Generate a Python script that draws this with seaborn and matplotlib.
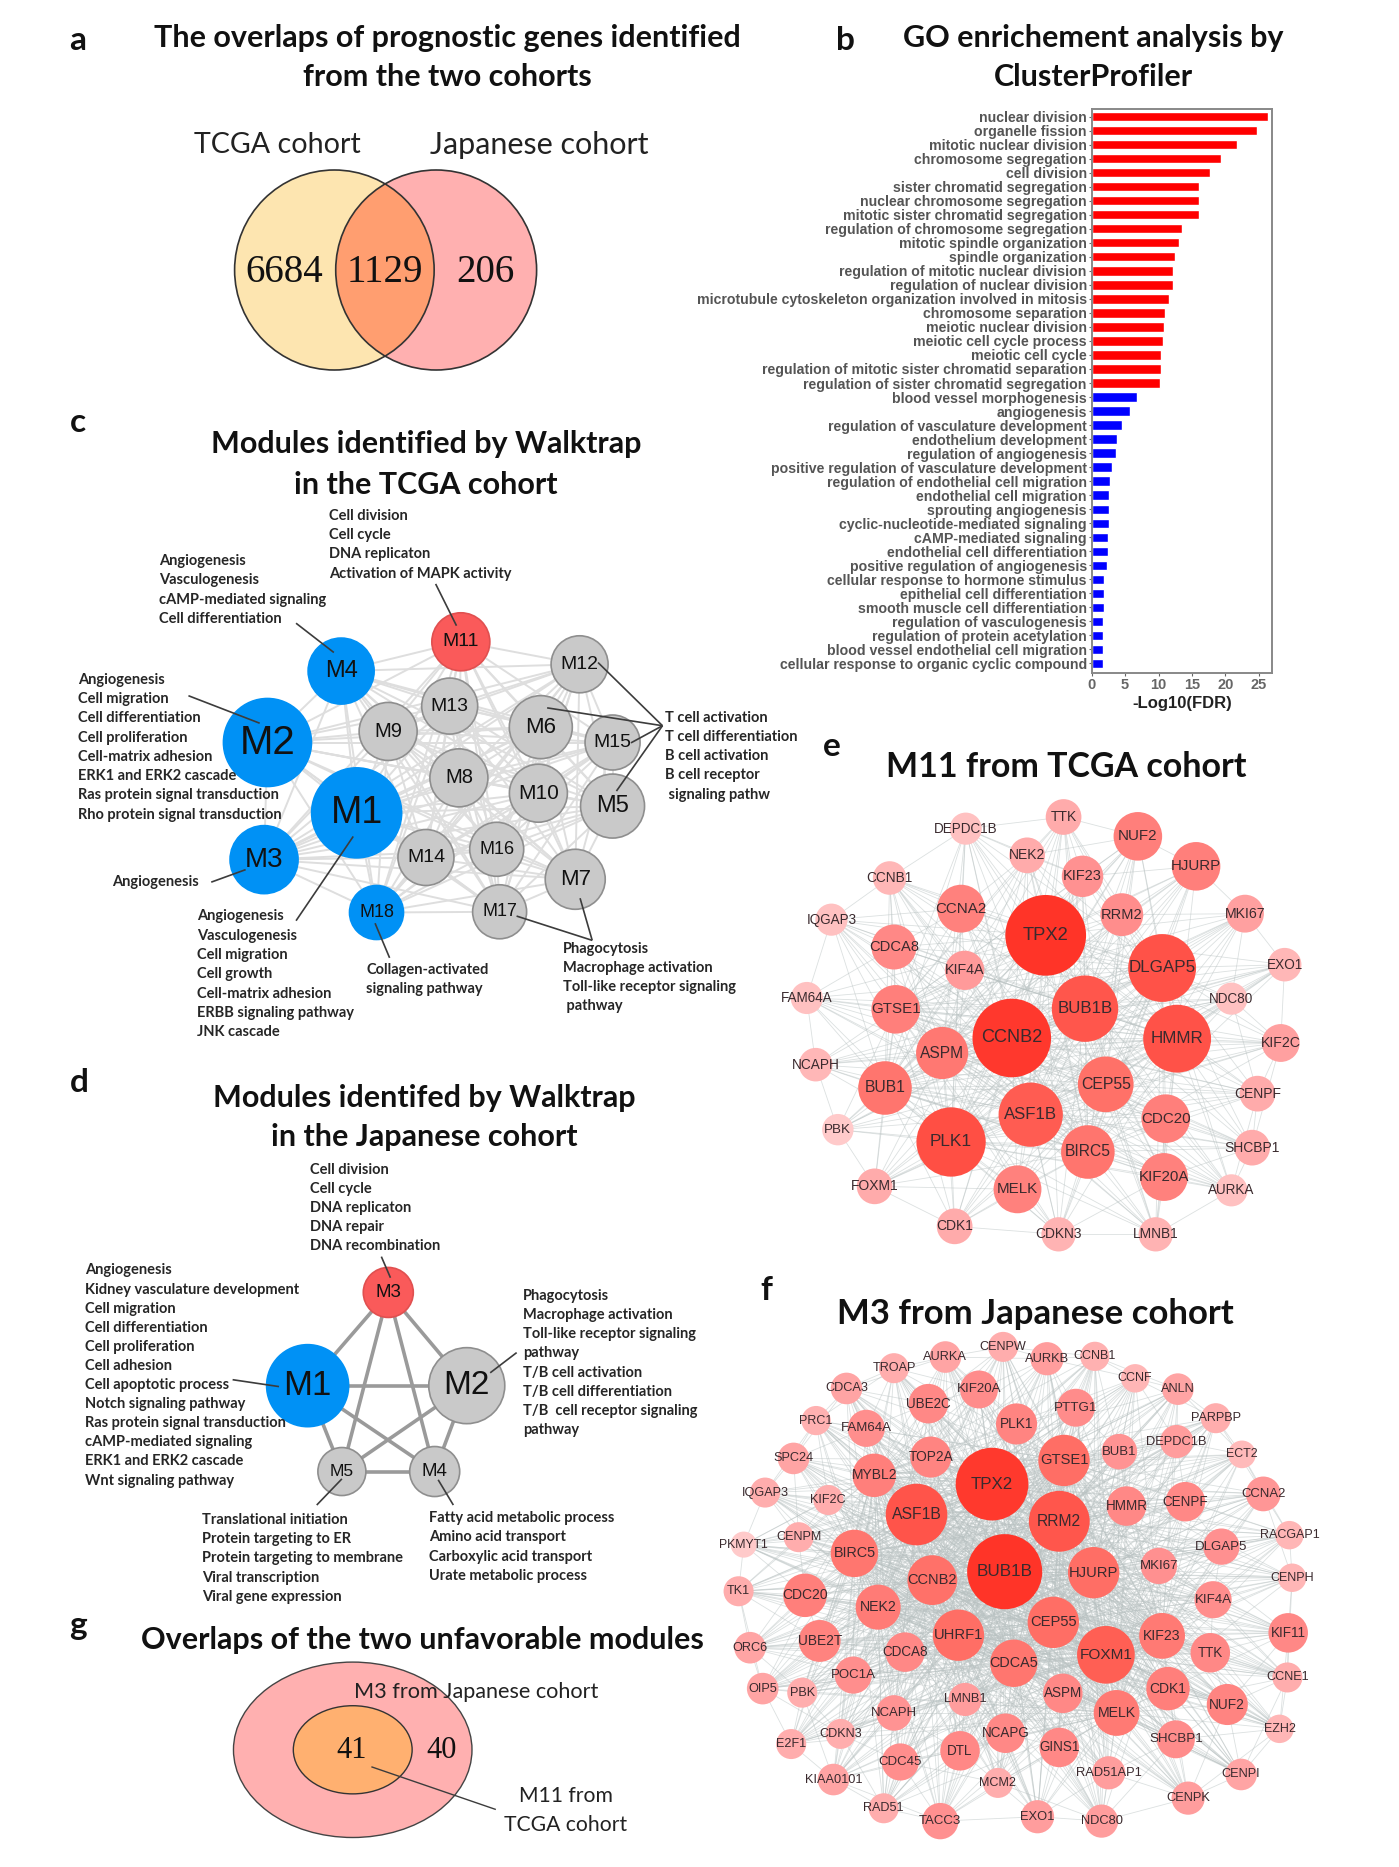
import itertools
import numpy as np
import pandas as pd
import matplotlib
matplotlib.use("Agg")
import matplotlib.pyplot as plt
from matplotlib.collections import LineCollection
from matplotlib.colors import LinearSegmentedColormap, to_hex
from matplotlib.patches import Ellipse
import seaborn as sns

# ---------- data ----------
go_terms_up = ["nuclear division", "organelle fission", "mitotic nuclear division", "chromosome segregation",
               "cell division", "sister chromatid segregation", "nuclear chromosome segregation",
               "mitotic sister chromatid segregation", "regulation of chromosome segregation",
               "mitotic spindle organization", "spindle organization", "regulation of mitotic nuclear division",
               "regulation of nuclear division", "microtubule cytoskeleton organization involved in mitosis",
               "chromosome separation", "meiotic nuclear division", "meiotic cell cycle process", "meiotic cell cycle",
               "regulation of mitotic sister chromatid separation", "regulation of sister chromatid segregation"]
go_values_up = [26.3, 24.7, 21.7, 19.3, 17.7, 16.1, 16.0, 16.0, 13.5, 13.1, 12.5, 12.1, 12.1, 11.5, 10.9, 10.8,
                10.65, 10.4, 10.3, 10.2]
go_terms_down = ["blood vessel morphogenesis", "angiogenesis", "regulation of vasculature development",
                 "endothelium development", "regulation of angiogenesis", "positive regulation of vasculature development",
                 "regulation of endothelial cell migration", "endothelial cell migration", "sprouting angiogenesis",
                 "cyclic-nucleotide-mediated signaling", "cAMP-mediated signaling", "endothelial cell differentiation",
                 "positive regulation of angiogenesis", "cellular response to hormone stimulus",
                 "epithelial cell differentiation", "smooth muscle cell differentiation", "regulation of vasculogenesis",
                 "regulation of protein acetylation", "blood vessel endothelial cell migration",
                 "cellular response to organic cyclic compound"]
go_values_down = [6.75, 5.75, 4.6, 3.85, 3.7, 3.0, 2.8, 2.65, 2.65, 2.65, 2.4, 2.4, 2.3, 1.9, 1.8, 1.8, 1.65, 1.65,
                  1.65, 1.65]
venn_ab = [6684, 1129, 206]
venn_g = [41, 40]

c_names = ["M1", "M2", "M3", "M4", "M5", "M6", "M7", "M8", "M9", "M10", "M11", "M12", "M13", "M14", "M15", "M16", "M17", "M18"]
c_x = [612, 428, 421, 580, 1140, 992, 1063, 823, 677, 987, 827, 1072, 804, 755, 1140, 901, 907, 653]
c_y = [876, 679, 1007, 479, 857, 636, 1062, 778, 648, 821, 397, 460, 577, 1001, 679, 978, 1153, 1155]
c_r = [45, 44, 34, 33, 32, 31.5, 30, 29, 29, 29, 29, 28.5, 28, 28, 27.5, 27, 27, 27]
c_fs = [27, 29, 20, 17, 17, 16, 16, 14.5, 14.5, 15, 14, 14, 14, 14, 14, 13, 13, 13]
c_kind = ["b", "b", "b", "b", "g", "g", "g", "g", "g", "g", "r", "g", "g", "g", "g", "g", "g", "b"]

d_names = ["M1", "M2", "M3", "M4", "M5"]
d_x = [571, 938, 757, 864, 650]
d_y = [535, 535, 332, 722, 722]
d_r = [41, 38, 25, 25, 24]
d_fs = [25, 24, 13.5, 13.5, 12.5]
d_kind = ["b", "g", "r", "g", "g"]

e_names = ["TPX2", "CCNB2", "DLGAP5", "HMMR", "PLK1", "BUB1B", "ASF1B", "CEP55", "BUB1", "ASPM", "GTSE1", "BIRC5", "CDC20",
           "KIF20A", "MELK", "HJURP", "NUF2", "CCNA2", "CDCA8", "RRM2", "KIF23", "KIF4A", "MKI67", "KIF2C", "NEK2", "TTK",
           "SHCBP1", "CDK1", "FOXM1", "CENPF", "LMNB1", "CDKN3", "DEPDC1B", "CCNB1", "IQGAP3", "FAM64A", "NCAPH", "PBK",
           "NDC80", "EXO1", "AURKA"]
e_x = [772, 677, 1098, 1140, 507, 882, 730, 940, 322, 482, 352, 890, 1108, 1103, 693, 1193, 1030, 535, 347, 985, 875, 545,
       1330, 1430, 720, 822, 1350, 517, 293, 1365, 1080, 808, 548, 335, 172, 103, 128, 190, 1292, 1441, 1292]
e_y = [460, 768, 558, 770, 1080, 680, 998, 907, 918, 813, 682, 1110, 1010, 1185, 1222, 253, 163, 380, 495, 398, 283, 565,
       395, 783, 220, 105, 1097, 1333, 1213, 935, 1357, 1357, 140, 288, 413, 648, 848, 1043, 650, 548, 1225]
e_rz = [113, 110, 95, 95, 97, 93, 90, 78, 75, 73, 68, 75, 68, 67, 67, 68, 68, 67, 63, 60, 58, 55, 53, 53, 50, 50, 50, 50,
        50, 50, 48, 48, 45, 47, 45, 45, 47, 44, 45, 47, 45]

f_names = ["TPX2", "BUB1B", "ASF1B", "RRM2", "FOXM1", "GTSE1", "HJURP", "UHRF1", "CCNB2", "BIRC5", "CEP55", "CDCA5", "MYBL2",
           "CDC20", "NEK2", "UBE2T", "KIF23", "MELK", "CDK1", "NUF2", "ASPM", "TOP2A", "PTTG1", "PLK1", "KIF20A", "UBE2C",
           "FAM64A", "HMMR", "CENPF", "BUB1", "DEPDC1B", "DLGAP5", "MKI67", "KIF4A", "TTK", "KIF11", "CDCA8", "POC1A", "LMNB1",
           "NCAPH", "NCAPG", "GINS1", "DTL", "CDC45", "SHCBP1", "RAD51AP1", "PBK", "OIP5", "ORC6", "E2F1", "CDKN3", "KIAA0101",
           "RAD51", "TACC3", "MCM2", "EXO1", "NDC80", "CENPK", "CENPI", "EZH2", "CCNE1", "CENPH", "RACGAP1", "CCNA2", "ECT2",
           "PARPBP", "ANLN", "CCNF", "CCNB1", "AURKB", "CENPW", "AURKA", "TROAP", "CDCA3", "PRC1", "SPC24", "IQGAP3", "KIF2C",
           "CENPM", "PKMYT1", "TK1"]
f_x = [688, 720, 497, 858, 976, 870, 945, 603, 537, 340, 843, 743, 390, 215, 400, 252, 1118, 1003, 1133, 1283, 867, 533, 900,
       750, 655, 527, 370, 1028, 1177, 1010, 1155, 1268, 1110, 1247, 1240, 1437, 468, 337, 620, 440, 722, 858, 607, 456, 1153,
       983, 208, 108, 76, 180, 305, 287, 414, 557, 703, 803, 965, 1184, 1318, 1415, 1435, 1447, 1440, 1374, 1320, 1254, 1158,
       1050, 948, 827, 716, 570, 440, 320, 243, 186, 114, 274, 199, 60, 47]
f_y = [453, 712, 543, 563, 958, 383, 715, 900, 737, 658, 862, 983, 427, 782, 817, 917, 902, 1130, 1058, 1105, 1072, 373, 227,
       275, 173, 215, 288, 518, 505, 357, 327, 638, 695, 795, 952, 893, 950, 1018, 1090, 1130, 1190, 1232, 1242, 1275, 1208,
       1307, 1070, 1058, 937, 1222, 1192, 1327, 1412, 1450, 1337, 1437, 1450, 1382, 1312, 1177, 1025, 730, 604, 482, 365, 258,
       172, 140, 75, 82, 47, 77, 110, 170, 265, 377, 478, 500, 610, 632, 770]
f_rz = [92, 95, 78, 77, 73, 65, 65, 65, 63, 60, 65, 60, 55, 55, 57, 53, 58, 58, 55, 52, 50, 52, 48, 52, 48, 50, 47, 50, 50, 45,
        42, 46, 46, 47, 50, 50, 50, 47, 42, 45, 50, 50, 50, 47, 48, 42, 38, 40, 40, 38, 38, 40, 38, 46, 38, 42, 42, 42, 40, 36,
        38, 36, 36, 44, 35, 38, 40, 36, 37, 42, 38, 40, 38, 40, 37, 40, 38, 38, 38, 33, 38]

c_blocks = [(555, 44, ["Cell division", "Cell cycle", "DNA replicaton", "Activation of MAPK activity"]),
            (205, 171, ["Angiogenesis", "Vasculogenesis", "cAMP-mediated signaling", "Cell differentiation"]),
            (37, 503, ["Angiogenesis", "Cell migration", "Cell differentiation", "Cell proliferation", "Cell-matrix adhesion",
                       "ERK1 and ERK2 cascade", "Ras protein signal transduction", "Rho protein signal transduction"]),
            (107, 1069, ["Angiogenesis"]),
            (283, 1166, ["Angiogenesis", "Vasculogenesis", "Cell migration", "Cell growth", "Cell-matrix adhesion",
                         "ERBB signaling pathway", "JNK cascade"]),
            (632, 1315, ["Collagen-activated", "signaling pathway"]),
            (1037, 1256, ["Phagocytosis", "Macrophage activation", "Toll-like receptor signaling", " pathway"]),
            (1248, 609, ["T cell activation", "T cell differentiation", "B cell activation", "B cell receptor", " signaling pathw"])]
c_leaders = [(775, 235, 818, 352), (487, 345, 565, 427), (265, 548, 412, 625), (312, 1070, 383, 1035), (605, 942, 487, 1178),
             (650, 1185, 680, 1282), (1073, 1115, 1098, 1233), (942, 1165, 1098, 1233), (1110, 455, 1243, 632),
             (1005, 582, 1243, 632), (1178, 680, 1243, 632), (1148, 815, 1243, 632)]
d_blocks = [(576, 65, ["Cell division", "Cell cycle", "DNA replicaton", "DNA repair", "DNA recombination"]),
            (58, 284, ["Angiogenesis", "Kidney vasculature development", "Cell migration", "Cell differentiation",
                       "Cell proliferation", "Cell adhesion", "Cell apoptotic process", "Notch signaling pathway",
                       "Ras protein signal transduction", "cAMP-mediated signaling", "ERK1 and ERK2 cascade",
                       "Wnt signaling pathway"]),
            (1068, 340, ["Phagocytosis", "Macrophage activation", "Toll-like receptor signaling", "pathway",
                         "T/B cell activation", "T/B cell differentiation", "T/B  cell receptor signaling", "pathway"]),
            (327, 828, ["Translational initiation", "Protein targeting to ER", "Protein targeting to membrane",
                        "Viral transcription", "Viral gene expression"]),
            (851, 824, ["Fatty acid metabolic process", "Amino acid transport", "Carboxylic acid transport",
                        "Urate metabolic process"])]
d_leaders = [(741, 254, 762, 300), (398, 522, 505, 537), (1053, 463, 992, 507), (650, 738, 592, 795), (872, 740, 907, 795)]

# ---------- style ----------
sns.set_theme(style="white")
plt.rcParams["font.family"] = ["Lato", "DejaVu Sans"]
W, H = 1399, 1867
fig = plt.figure(figsize=(W / 100, H / 100), dpi=100, facecolor="white")
KIND = {"b": "#0091F5", "g": "#C9C9C9", "r": "#FA5A5A"}
EDGE = {"b": "#0091F5", "g": "#8E8E8E", "r": "#E05050"}
ARIAL = "Liberation Sans"
TITLE = dict(fontsize=22, fontweight="bold", ha="center", va="center", color="#111111")
NOTE = dict(fontsize=10.5, fontweight="bold", ha="left", va="center", color="#262626")


def panel(x, y, w, h, zw=1568, zh=1568, z=1):
    ax = fig.add_axes([x / W, 1 - (y + h) / H, w / W, h / H], zorder=z)
    ax.set_xlim(0, zw)
    ax.set_ylim(zh, 0)
    ax.axis("off")
    ax.patch.set_alpha(0)
    return ax


def nodes(ax, names, xs, ys, rs, colors, edges=None, lw=0.0, z=3):
    df = pd.DataFrame({"name": names, "x": xs, "y": ys})
    df["s"] = (2 * np.asarray(rs, float) * 0.72) ** 2
    xl, yl = ax.get_xlim(), ax.get_ylim()
    sns.scatterplot(data=df, x="x", y="y", hue="name", palette=dict(zip(names, colors)), s=df["s"].values, ax=ax,
                    legend=False, linewidth=lw, edgecolor=edges if edges is not None else "none", zorder=z, clip_on=False)
    ax.set_xlim(xl)
    ax.set_ylim(yl)
    ax.axis("off")


def links(ax, xs, ys, pairs, color, lw, alpha=1.0):
    segs = [((xs[i], ys[i]), (xs[j], ys[j])) for i, j in pairs]
    ax.add_collection(LineCollection(segs, colors=color, linewidths=lw, alpha=alpha, zorder=1))


def notes(ax, blocks, dy):
    for x, y, lines in blocks:
        for k, s in enumerate(lines):
            ax.text(x, y + k * dy, s, zorder=6, **NOTE)


def leaders(ax, segs, lw=1.2):
    ax.add_collection(LineCollection([((a, b), (c, d)) for a, b, c, d in segs], colors="#3c3c3c", linewidths=lw, zorder=5))


def hub_pairs(xs, ys, rs, n_hubs, n_near):
    """Link structure of the gene networks: every gene to the largest hubs and to its nearest neighbours."""
    xs, ys = np.asarray(xs, float), np.asarray(ys, float)
    order = np.argsort(-np.asarray(rs, float))[:n_hubs]
    pairs = set()
    for i in range(len(xs)):
        for h in order:
            if h != i:
                pairs.add(tuple(sorted((i, int(h)))))
        dist = np.hypot(xs - xs[i], ys - ys[i])
        for j in np.argsort(dist)[1:n_near + 1]:
            pairs.add(tuple(sorted((i, int(j)))))
    return sorted(pairs)


# ---------- page text ----------
page = panel(0, 0, W, H, W, H, z=8)
for s, x, y in [("a", 78, 41), ("b", 845, 40), ("c", 78, 423), ("d", 79, 1083), ("e", 832, 747), ("f", 766, 1290), ("g", 78, 1625)]:
    page.text(x, y, s, fontsize=24, fontweight="bold", ha="center", va="center", color="#111111")
for s, x, y in [("The overlaps of prognostic genes identified", 447, 38), ("from the two cohorts", 447, 77),
                ("GO enrichement analysis by", 1093, 38), ("ClusterProfiler", 1093, 77),
                ("Modules identified by Walktrap", 426, 444), ("in the TCGA cohort", 426, 485),
                ("Modules identifed by Walktrap", 424, 1098), ("in the Japanese cohort", 424, 1137),
                ("Overlaps of the two unfavorable modules", 422, 1640)]:
    page.text(x, y, s, **TITLE)
page.text(1066, 767, "M11 from TCGA cohort", fontsize=24.5, fontweight="bold", ha="center", va="center", color="#111111")
page.text(1035, 1314, "M3 from Japanese cohort", fontsize=25, fontweight="bold", ha="center", va="center", color="#111111")

# ---------- panel a ----------
a = panel(50, 0, 700, 520, 1568, 1560)
left = Ellipse((637, 810), 447, 600, fc="#FDE5B0", ec="none", zorder=1)
right = Ellipse((865, 810), 450, 600, fc="#FFB0B0", ec="none", zorder=1)
a.add_patch(left)
a.add_patch(right)
over = Ellipse((637, 810), 447, 600, fc="#FF9E70", ec="none", zorder=2)
a.add_patch(over)
over.set_clip_path(Ellipse((865, 810), 450, 600, transform=a.transData))
for c in [(637, 447), (865, 450)]:
    a.add_patch(Ellipse((c[0], 810), c[1], 600, fc="none", ec="#333333", lw=1.2, zorder=3))
for v, x in zip(venn_ab, [525, 750, 975]):
    a.text(x, 819, str(v), family="Liberation Serif", fontsize=28, ha="center", va="center", color="#111111", zorder=4)
a.text(510, 436, "TCGA cohort", fontsize=20.6, ha="center", va="center", color="#222222")
a.text(1095, 436, "Japanese cohort", fontsize=22, ha="center", va="center", color="#222222")

# ---------- panel b ----------
b = fig.add_axes([1091.7 / W, 1 - 672.7 / H, (1272.3 - 1091.7) / W, (672.7 - 109) / H], zorder=2)
go = pd.DataFrame({"term": go_terms_up + go_terms_down, "fdr": go_values_up + go_values_down,
                   "group": ["up"] * len(go_terms_up) + ["down"] * len(go_terms_down)})
sns.barplot(data=go, x="fdr", y="term", hue="group", palette={"up": "#FF0000", "down": "#0000FF"}, dodge=False, width=0.66,
            saturation=1, legend=False, ax=b)
b.set_xlim(0, 27.0)
b.set_ylim(39.67, -0.55)
b.set_xticks([0, 5, 10, 15, 20, 25])
b.set_ylabel("")
b.set_xlabel("-Log10(FDR)", fontsize=12, fontweight="bold", family=ARIAL, color="#222222", labelpad=3)
b.tick_params(axis="both", length=2, width=0.8, color="#666666", pad=1.5, bottom=True, left=True)
for t in b.get_yticklabels():
    t.set(fontsize=10.2, fontweight="bold", family=ARIAL, color="#555555")
for t in b.get_xticklabels():
    t.set(fontsize=10.5, fontweight="bold", family=ARIAL, color="#666666")
for sp in b.spines.values():
    sp.set(color="#888888", linewidth=1.4, visible=True)

# ---------- panel c ----------
c = panel(60, 500, 760, 560)
links(c, c_x, c_y, list(itertools.combinations(range(len(c_names)), 2)), "#DEDEDE", 1.4)
nodes(c, c_names, c_x, c_y, c_r, [KIND[k] for k in c_kind], [EDGE[k] for k in c_kind], 1.2)
for n, x, y, fs in zip(c_names, c_x, c_y, c_fs):
    c.text(x, y, n, family=ARIAL, fontsize=fs, ha="center", va="center", color="#111111", zorder=4)
notes(c, c_blocks, 54)
leaders(c, c_leaders)

# ---------- panel d ----------
d = panel(60, 1140, 680, 720)
links(d, d_x, d_y, list(itertools.combinations(range(5), 2)), "#9A9A9A", 2.6)
nodes(d, d_names, d_x, d_y, d_r, [KIND[k] for k in d_kind], [EDGE[k] for k in d_kind], 1.2)
for n, x, y, fs in zip(d_names, d_x, d_y, d_fs):
    d.text(x, y, n, family=ARIAL, fontsize=fs, ha="center", va="center", color="#111111", zorder=4)
notes(d, d_blocks, 41.6)
leaders(d, d_leaders)

# ---------- panel g ----------
d.add_patch(Ellipse((675, 1328), 550, 382, fc="#FFB0B0", ec="#444444", lw=1.0, zorder=2))
d.add_patch(Ellipse((675, 1328), 274, 192, fc="#FFB070", ec="#333333", lw=1.0, zorder=3))
for v, x in zip(venn_g, [672, 880]):
    d.text(x, 1330, str(v), family="Liberation Serif", fontsize=22, ha="center", va="center", color="#111111", zorder=6)
d.text(960, 1203, "M3 from Japanese cohort", fontsize=15.6, ha="center", va="center", color="#222222", zorder=6)
d.text(1166, 1428, "M11 from", fontsize=15.2, ha="center", va="center", color="#222222", zorder=6)
d.text(1166, 1491, "TCGA cohort", fontsize=15.2, ha="center", va="center", color="#222222", zorder=6)
leaders(d, [(718, 1365, 1005, 1458)], 1.0)

# ---------- gene networks ----------
heat = LinearSegmentedColormap.from_list("heat", ["#FFCACA", "#FF9090", "#FF6A60", "#FF3428"])


def gene_net(ax, names, xs, ys, rz, scale, n_hubs, n_near, alpha, fs0):
    r = np.asarray(rz, float) / scale
    span = (r.max() - r.min())
    t = (r - r.min()) / span
    links(ax, xs, ys, hub_pairs(xs, ys, rz, n_hubs, n_near), "#B9C2C2", 0.6, alpha)
    nodes(ax, names, xs, ys, r, [to_hex(heat(v ** 0.7)) for v in t], "#FFFFFF", 0.0)
    for n, x, y, v in zip(names, xs, ys, t):
        ax.text(x, y, n, family=ARIAL, fontsize=fs0 + 3.5 * v, ha="center", va="center", color="#3A2A2E", zorder=4)


e = panel(770, 782, 560, 490, 1568, 1470)
gene_net(e, e_names, e_x, e_y, e_rz, 2.8, 12, 5, 0.5, 9.7)
f = panel(720, 1331, 620, 530)
gene_net(f, f_names, f_x, f_y, f_rz, 2.53, 16, 6, 0.5, 8.8)

fig.savefig("out.png", dpi=100, facecolor="white")
